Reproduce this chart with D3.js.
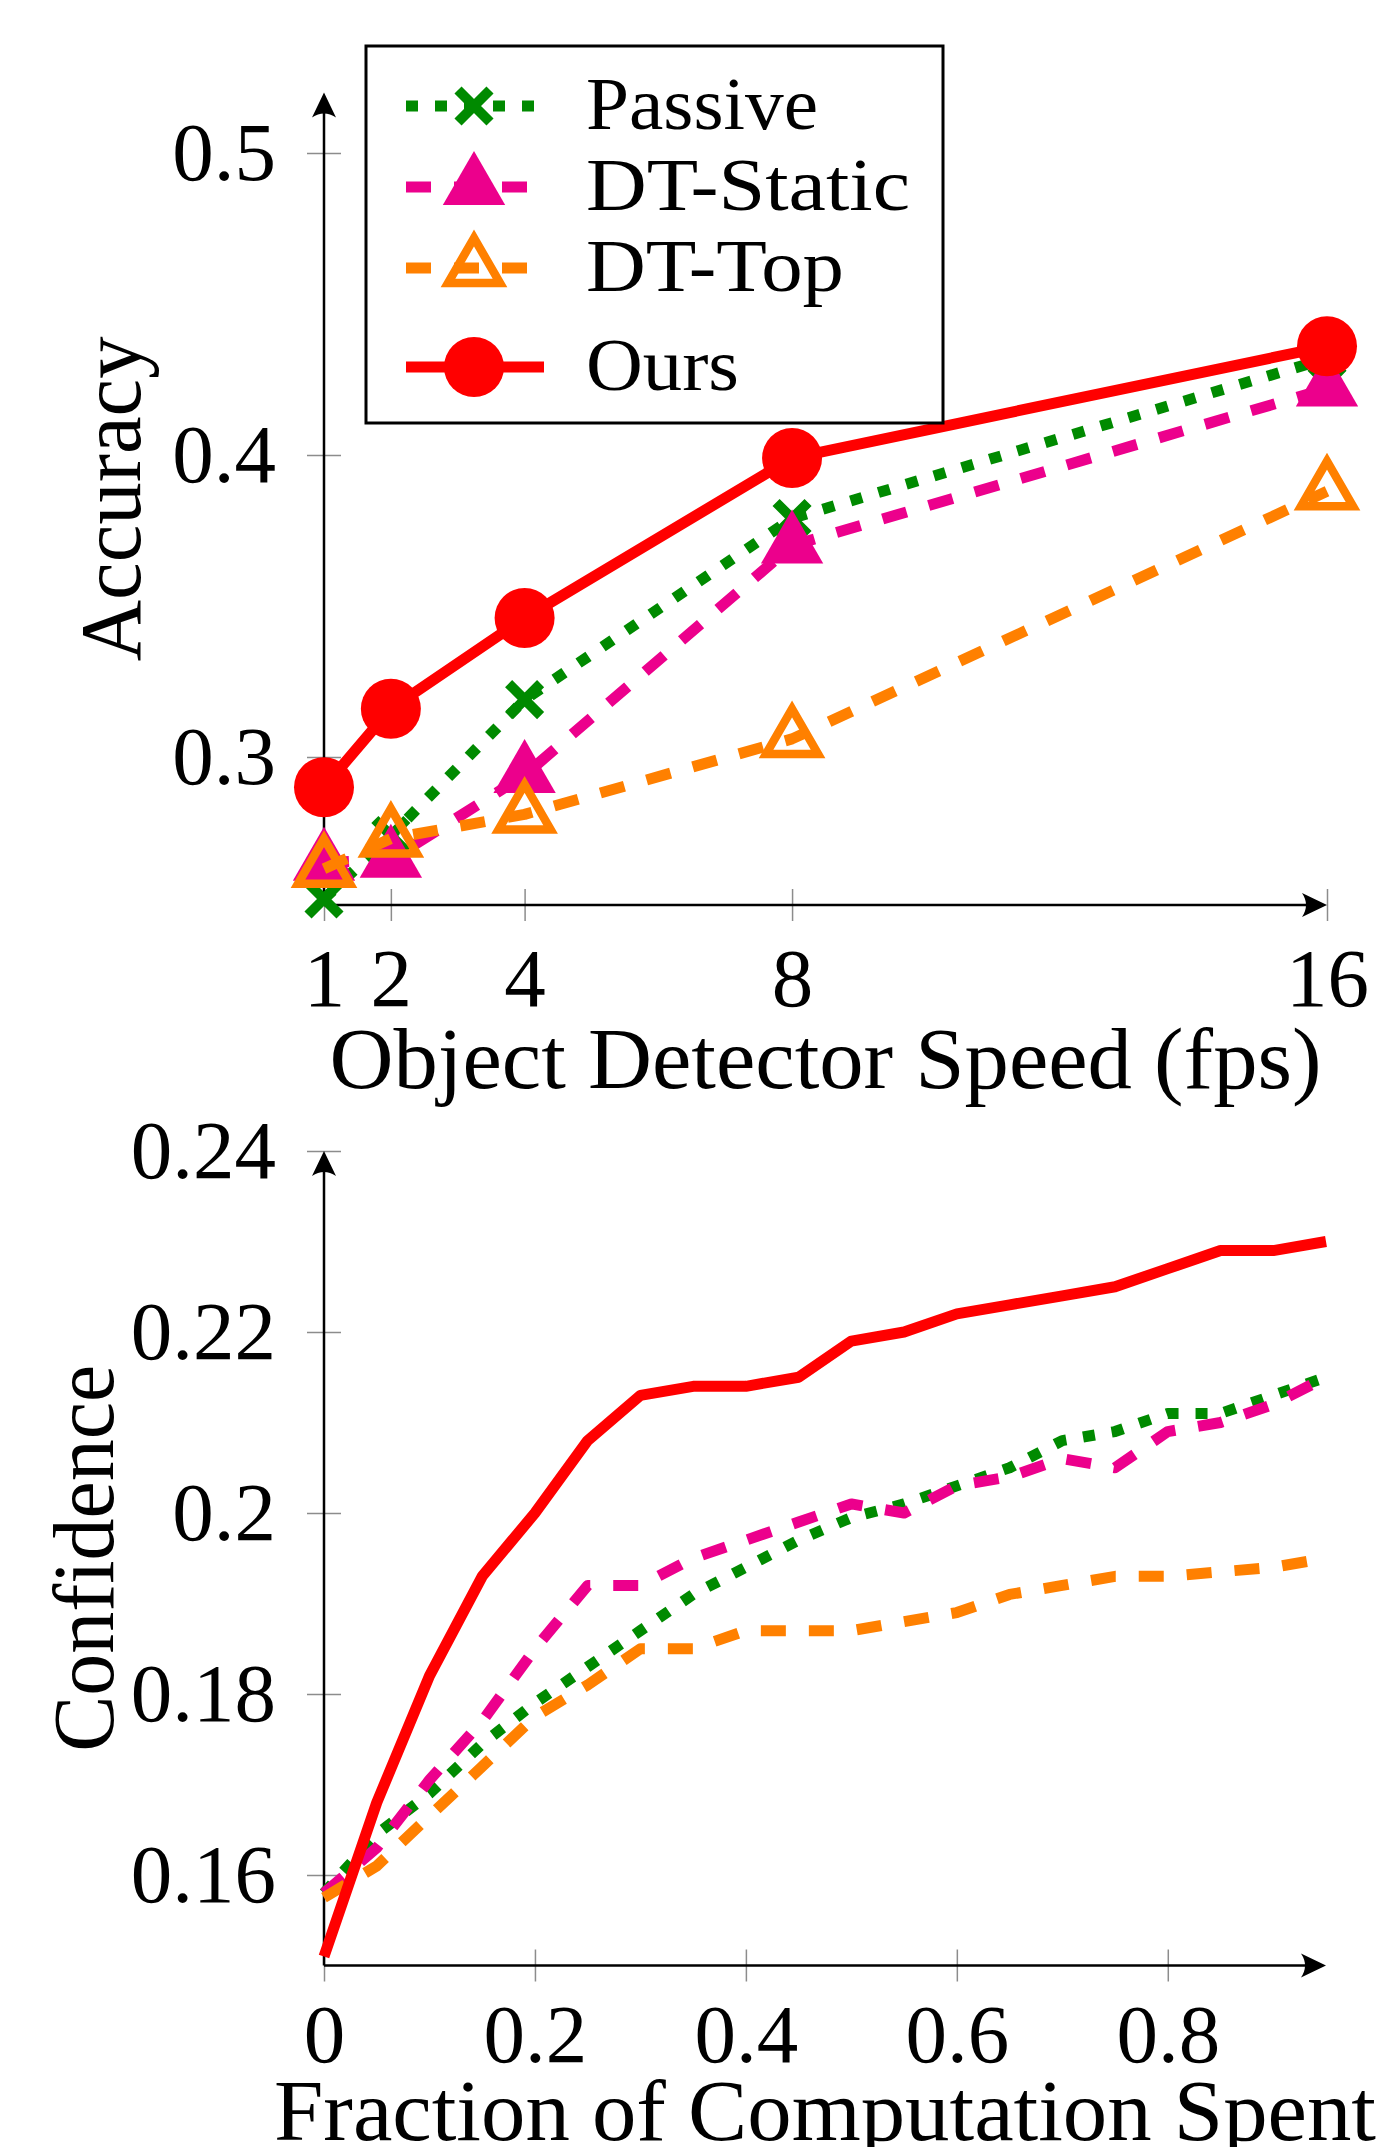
<!DOCTYPE html>
<html>
<head>
<meta charset="utf-8">
<script src="https://cdn.jsdelivr.net/npm/d3@7"></script>
<style>
  body { margin: 0; background: #fff; }
  text { font-family: "Liberation Serif", "Times New Roman", serif; }
</style>
</head>
<body>
<div id="canvas"></div>
<script>
// ---- top panel: accuracy vs object detector speed ----
var fps = [1, 2, 4, 8, 16];
var passiveAcc = [0.253, 0.274, 0.319, 0.379, 0.432];
var staticAcc  = [0.265, 0.266, 0.294, 0.370, 0.422];
var topAcc     = [0.263, 0.273, 0.281, 0.306, 0.388];
var oursAcc    = [0.290, 0.316, 0.346, 0.399, 0.436];
var accTicks = [0.3, 0.4, 0.5];
var fpsTicks = [1, 2, 4, 8, 16];

// ---- bottom panel: confidence vs fraction of computation ----
var fraction = [0, 0.05, 0.1, 0.15, 0.2, 0.25, 0.3, 0.35, 0.4, 0.45,
                0.5, 0.55, 0.6, 0.65, 0.7, 0.75, 0.8, 0.85, 0.9, 0.95];
var passiveConf = [0.158, 0.1645, 0.169, 0.1745, 0.179, 0.183, 0.187, 0.191, 0.194, 0.197,
                   0.1995, 0.201, 0.203, 0.205, 0.208, 0.209, 0.211, 0.211, 0.213, 0.215];
var staticConf  = [0.158, 0.163, 0.1705, 0.177, 0.185, 0.192, 0.192, 0.195, 0.197, 0.199,
                   0.201, 0.200, 0.203, 0.204, 0.206, 0.205, 0.209, 0.210, 0.212, 0.215];
var topConf     = [0.1575, 0.161, 0.1665, 0.172, 0.1775, 0.181, 0.185, 0.185, 0.187, 0.187,
                   0.187, 0.188, 0.189, 0.191, 0.192, 0.193, 0.193, 0.1935, 0.194, 0.195];
var oursConf    = [0.151, 0.168, 0.182, 0.193, 0.200, 0.208, 0.213, 0.214, 0.214, 0.215,
                   0.219, 0.220, 0.222, 0.223, 0.224, 0.225, 0.227, 0.229, 0.229, 0.230];
var confTicks = [0.16, 0.18, 0.2, 0.22, 0.24];
var fracTicks = [0, 0.2, 0.4, 0.6, 0.8];

var seriesNames = ["Passive", "DT-Static", "DT-Top", "Ours"];
var seriesColors = ["#008a00", "#ec008c", "#ff8000", "#ff0000"];
var seriesDash = ["12,17", "25,23", "25,23", null];
var seriesMark = ["cross", "triFill", "triOpen", "circle"];

var svg = d3.select("#canvas")
  .append("svg")
  .attr("width", 1388)
  .attr("height", 2147);

// arrow head for the axis lines
svg.append("defs").append("marker")
  .attr("id", "arrow")
  .attr("viewBox", "-30 -15 40 30")
  .attr("refX", 0).attr("refY", 0)
  .attr("markerWidth", 40).attr("markerHeight", 30)
  .attr("markerUnits", "userSpaceOnUse")
  .attr("orient", "auto")
  .append("path")
  .attr("d", "M4,0 L-21,-12 Q-13,0 -21,12 Z")
  .attr("fill", "#000");

function drawMark(g, type, color, cx, cy) {
  if (type == "circle") {
    g.append("circle").attr("cx", cx).attr("cy", cy).attr("r", 30).attr("fill", color);
  } else if (type == "cross") {
    var s = 16;
    g.append("path")
      .attr("d", "M" + (cx - s) + "," + (cy - s) + "L" + (cx + s) + "," + (cy + s) +
                 "M" + (cx - s) + "," + (cy + s) + "L" + (cx + s) + "," + (cy - s))
      .attr("stroke", color).attr("stroke-width", 10).attr("fill", "none");
  } else {
    var r = type == "triFill" ? 36 : 30;
    var pts = [[cx, cy - r], [cx - 0.866 * r, cy + 0.5 * r], [cx + 0.866 * r, cy + 0.5 * r]];
    var p = g.append("polygon").attr("points", pts.map(d => d.join(",")).join(" "));
    if (type == "triFill") p.attr("fill", color);
    else p.attr("fill", "none").attr("stroke", color).attr("stroke-width", 8.5);
  }
}

function drawAxes(x, y, xTicks, yTicks, x0, y0, xTip, yTip, xLabelBase, yLabelX, xLabel, yLabel, xLen, yLen) {
  var ox = x(x0), oy = y(y0);

  // y ticks + labels
  var gy = svg.append("g")
    .attr("transform", "translate(" + (ox + 17) + ",0)")
    .call(d3.axisLeft(y).tickValues(yTicks).tickSizeInner(34).tickSizeOuter(0)
      .tickPadding(31).tickFormat(d => String(d)));
  gy.select(".domain").remove();
  gy.attr("font-family", null).attr("font-size", 83);
  gy.selectAll(".tick line").attr("stroke", "#8c8c8c").attr("stroke-width", 1.5);

  // x ticks + labels
  var gx = svg.append("g")
    .attr("transform", "translate(0," + (oy - 16) + ")")
    .call(d3.axisBottom(x).tickValues(xTicks).tickSizeInner(32).tickSizeOuter(0)
      .tickFormat(d => String(d)));
  gx.select(".domain").remove();
  gx.attr("font-family", null).attr("font-size", 83);
  gx.selectAll(".tick line").attr("stroke", "#8c8c8c").attr("stroke-width", 1.5);
  gx.selectAll(".tick text").attr("y", xLabelBase - (oy - 16)).attr("dy", null);

  // axis lines with arrows
  svg.append("line")
    .attr("x1", ox).attr("y1", oy).attr("x2", ox).attr("y2", y(yTip) + 4)
    .attr("stroke", "#000").attr("stroke-width", 2.5).attr("marker-end", "url(#arrow)");
  svg.append("line")
    .attr("x1", ox).attr("y1", oy).attr("x2", x(xTip) - 4).attr("y2", oy)
    .attr("stroke", "#000").attr("stroke-width", 2.5).attr("marker-end", "url(#arrow)");

  // axis titles
  svg.append("text")
    .attr("x", (ox + x(xTip)) / 2).attr("y", xLabel.base)
    .attr("text-anchor", "middle").attr("font-size", 86)
    .attr("textLength", xLen).attr("lengthAdjust", "spacingAndGlyphs")
    .text(xLabel.text);
  svg.append("text")
    .attr("transform", "translate(" + yLabelX + "," + ((oy + y(yTip)) / 2) + ") rotate(-90)")
    .attr("text-anchor", "middle").attr("font-size", 86)
    .attr("textLength", yLen).attr("lengthAdjust", "spacingAndGlyphs")
    .text(yLabel);
}

// ---------------- top chart ----------------
var xTop = d3.scaleLinear().domain([1, 16]).range([324, 1327]);
var yTop = d3.scaleLinear().domain([0.3, 0.5]).range([757, 153]);

drawAxes(xTop, yTop, fpsTicks, accTicks, 1, 0.251, 16, 0.52, 1006, 140,
  {text: "Object Detector Speed (fps)", base: 1088}, "Accuracy", 992, 325);

var accSeries = [passiveAcc, staticAcc, topAcc, oursAcc];
accSeries.forEach(function(vals, i) {
  var g = svg.append("g");
  var line = d3.line().x((d, k) => xTop(fps[k])).y(d => yTop(d));
  g.append("path")
    .attr("d", line(vals))
    .attr("fill", "none")
    .attr("stroke", seriesColors[i])
    .attr("stroke-width", 11)
    .attr("stroke-linejoin", "round")
    .attr("stroke-dasharray", seriesDash[i]);
  vals.forEach(function(v, k) {
    drawMark(g, seriesMark[i], seriesColors[i], xTop(fps[k]), yTop(v));
  });
});

// legend
var legend = svg.append("g");
legend.append("rect")
  .attr("x", 366).attr("y", 46).attr("width", 577).attr("height", 377)
  .attr("fill", "#fff").attr("stroke", "#000").attr("stroke-width", 3);
var legRowY = [106, 187, 268, 367];
var legLen = [232, 324, 258, 153];
seriesNames.forEach(function(name, i) {
  legend.append("line")
    .attr("x1", 406).attr("x2", 544).attr("y1", legRowY[i]).attr("y2", legRowY[i])
    .attr("stroke", seriesColors[i]).attr("stroke-width", 11)
    .attr("stroke-dasharray", seriesDash[i]);
  drawMark(legend, seriesMark[i], seriesColors[i], 474, legRowY[i]);
  legend.append("text")
    .attr("x", 586).attr("y", legRowY[i] + 23)
    .attr("font-size", 74)
    .attr("textLength", legLen[i]).attr("lengthAdjust", "spacingAndGlyphs")
    .text(name);
});

// ---------------- bottom chart ----------------
var xBot = d3.scaleLinear().domain([0, 0.95]).range([324, 1326]);
var yBot = d3.scaleLinear().domain([0.16, 0.24]).range([1875, 1151]);

drawAxes(xBot, yBot, fracTicks, confTicks, 0, 0.15, 0.95, 0.24, 2062, 113,
  {text: "Fraction of Computation Spent", base: 2140}, "Confidence", 1102, 387);

var confSeries = [passiveConf, staticConf, topConf, oursConf];
confSeries.forEach(function(vals, i) {
  var line = d3.line().x((d, k) => xBot(fraction[k])).y(d => yBot(d));
  svg.append("path")
    .attr("d", line(vals))
    .attr("fill", "none")
    .attr("stroke", seriesColors[i])
    .attr("stroke-width", 11)
    .attr("stroke-linejoin", "round")
    .attr("stroke-dasharray", seriesDash[i]);
});
</script>
</body>
</html>
